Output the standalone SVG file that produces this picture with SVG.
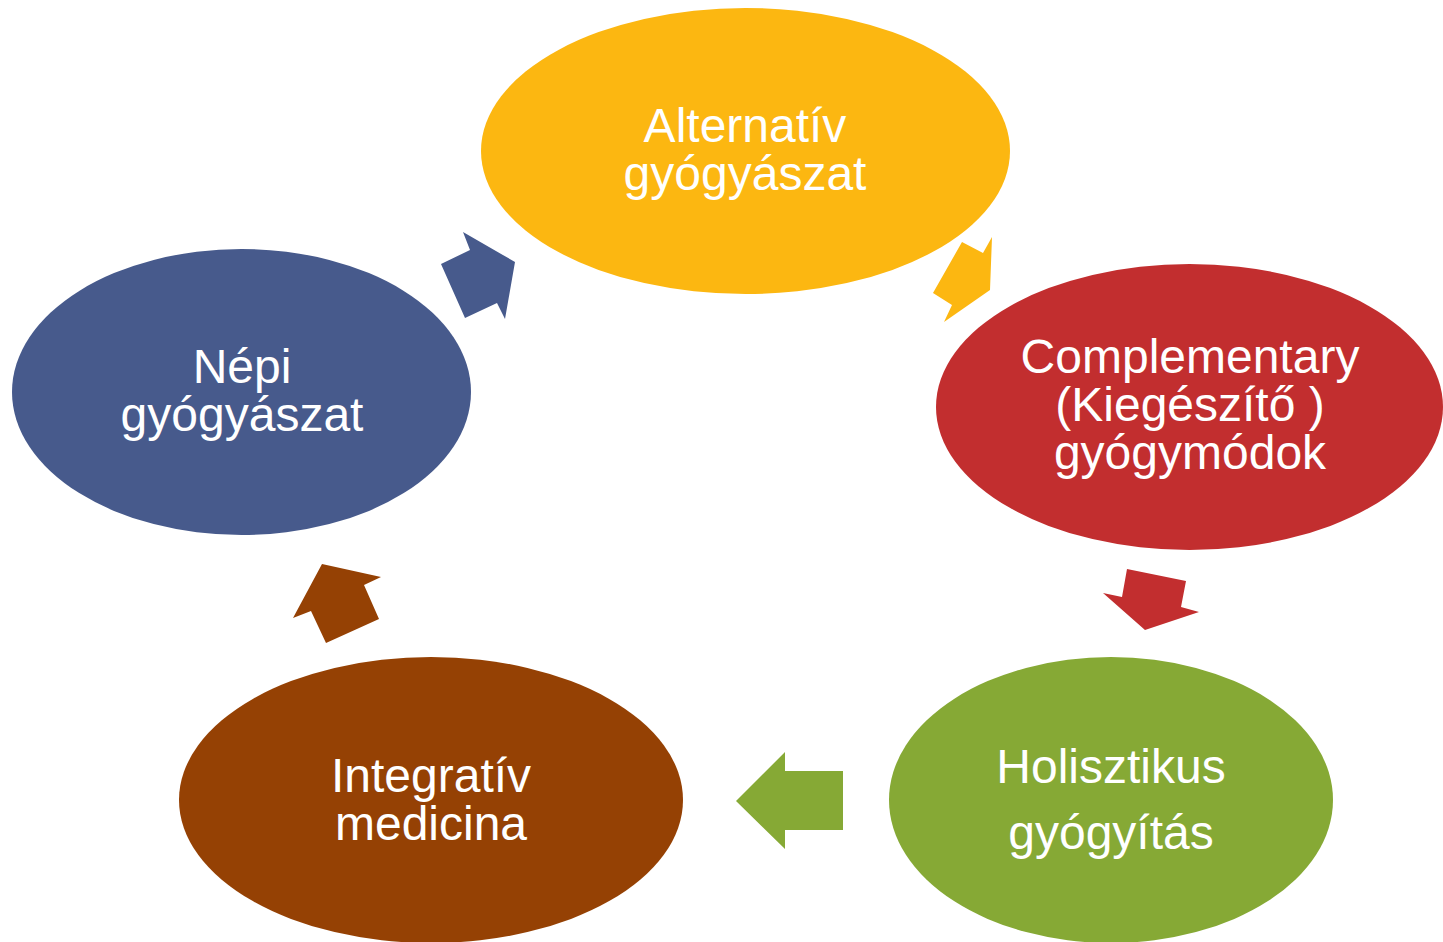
<svg xmlns="http://www.w3.org/2000/svg" width="1443" height="942" viewBox="0 0 1443 942">
<style>
.lbl{font-family:"Liberation Sans",Arial,sans-serif;font-size:48px;fill:#FFFFFF;text-anchor:middle}
</style>
<rect width="1443" height="942" fill="#FFFFFF"/>
<g id="connectors">
<polygon fill="#475A8C" points="463,232 515,262 505,319 497,303 465,318 441,264 470,250"/>
<polygon fill="#FCB711" points="992,237 990,290 944,322 952,305 933,293 962,242 983,253"/>
<polygon fill="#C22E2F" points="1127,569 1186,581 1181,607 1199,612 1145,630 1103,593 1122,597"/>
<polygon fill="#86A935" points="736,801 785,752 785,771 843,771 843,830 785,830 785,849"/>
<polygon fill="#954104" points="322,564 381,577 364,585 379,619 326,643 311,611 293,618"/>
</g>
<g id="node-alternativ">
<ellipse cx="745.5" cy="151" rx="264.5" ry="143" fill="#FCB711"/>
<text class="lbl"><tspan x="745" y="142">Alternatív</tspan><tspan x="745" y="190">gyógyászat</tspan></text>
</g>
<g id="node-complementary">
<ellipse cx="1189.5" cy="407" rx="253.5" ry="143" fill="#C22E2F"/>
<text class="lbl"><tspan x="1190" y="373">Complementary</tspan><tspan x="1190" y="421">(Kiegészítő )</tspan><tspan x="1190" y="469">gyógymódok</tspan></text>
</g>
<g id="node-holisztikus">
<ellipse cx="1111" cy="800" rx="222" ry="143" fill="#86A935"/>
<text class="lbl"><tspan x="1111" y="783">Holisztikus</tspan><tspan x="1111" y="849">gyógyítás</tspan></text>
</g>
<g id="node-integrativ">
<ellipse cx="431" cy="800" rx="252" ry="143" fill="#954104"/>
<text class="lbl"><tspan x="431" y="792">Integratív</tspan><tspan x="431" y="840">medicina</tspan></text>
</g>
<g id="node-nepi">
<ellipse cx="241.5" cy="392" rx="229.5" ry="143" fill="#475A8C"/>
<text class="lbl"><tspan x="242" y="383">Népi</tspan><tspan x="242" y="431">gyógyászat</tspan></text>
</g>
</svg>
